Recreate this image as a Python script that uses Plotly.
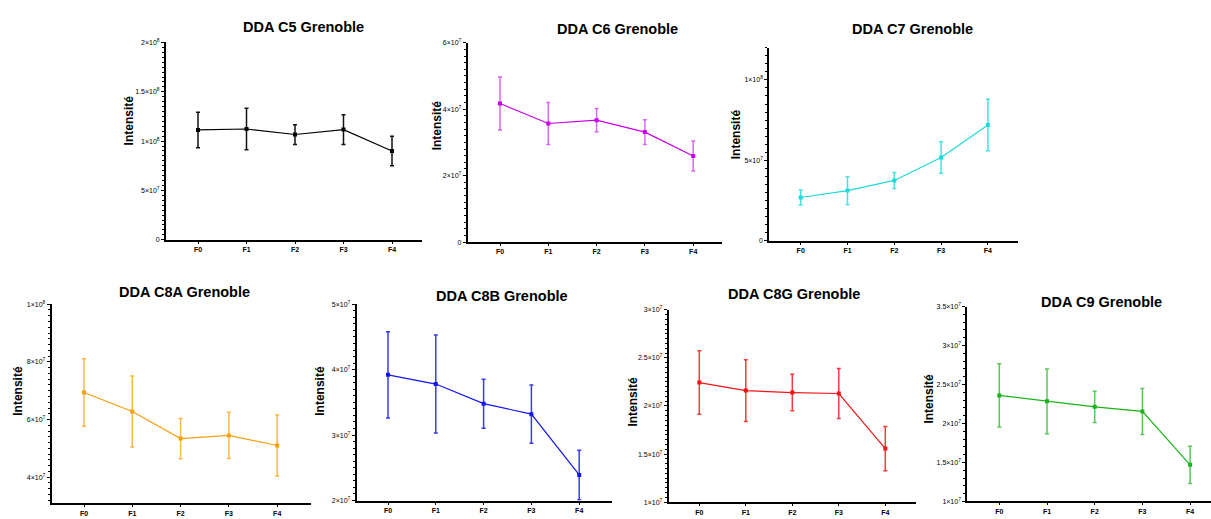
import plotly.graph_objects as go

W, H = 1211, 519

categories = ["F0", "F1", "F2", "F3", "F4"]

titles = ["DDA C5 Grenoble", "DDA C6 Grenoble", "DDA C7 Grenoble",
          "DDA C8A Grenoble", "DDA C8B Grenoble", "DDA C8G Grenoble", "DDA C9 Grenoble"]

c5_mean = [1.113e8, 1.123e8, 1.067e8, 1.117e8, 0.90e8]
c5_err = [0.18e8, 0.21e8, 0.10e8, 0.15e8, 0.15e8]
c6_mean = [4.17e7, 3.57e7, 3.67e7, 3.31e7, 2.59e7]
c6_err = [0.80e7, 0.63e7, 0.35e7, 0.37e7, 0.45e7]
c7_mean = [2.69e7, 3.12e7, 3.75e7, 5.17e7, 7.20e7]
c7_err = [0.46e7, 0.86e7, 0.50e7, 0.98e7, 1.60e7]
c8a_mean = [6.94e7, 6.28e7, 5.34e7, 5.45e7, 5.10e7]
c8a_err = [1.17e7, 1.23e7, 0.70e7, 0.80e7, 1.06e7]
c8b_mean = [3.92e7, 3.78e7, 3.48e7, 3.32e7, 2.39e7]
c8b_err = [0.66e7, 0.75e7, 0.375e7, 0.445e7, 0.38e7]
c8g_mean = [2.244e7, 2.16e7, 2.14e7, 2.13e7, 1.557e7]
c8g_err = [0.33e7, 0.32e7, 0.19e7, 0.26e7, 0.23e7]
c9_mean = [2.36e7, 2.285e7, 2.214e7, 2.155e7, 1.47e7]
c9_err = [0.405e7, 0.415e7, 0.20e7, 0.295e7, 0.24e7]

means = [c5_mean, c6_mean, c7_mean, c8a_mean, c8b_mean, c8g_mean, c9_mean]
errs = [c5_err, c6_err, c7_err, c8a_err, c8b_err, c8g_err, c9_err]

y_ranges = [[0, 2e8], [0, 6e7], [0, 1.2e8], [3.1e7, 1e8], [2e7, 5e7], [1e7, 3e7], [1e7, 3.5e7]]
y_tickvals = [
    [0, 5e7, 1e8, 1.5e8, 2e8],
    [0, 2e7, 4e7, 6e7],
    [0, 5e7, 1e8],
    [4e7, 6e7, 8e7, 1e8],
    [2e7, 3e7, 4e7, 5e7],
    [1e7, 1.5e7, 2e7, 2.5e7, 3e7],
    [1e7, 1.5e7, 2e7, 2.5e7, 3e7, 3.5e7],
]
y_ticktext = [
    ["0", "5×10<sup>7</sup>", "1×10<sup>8</sup>", "1.5×10<sup>8</sup>", "2×10<sup>8</sup>"],
    ["0", "2×10<sup>7</sup>", "4×10<sup>7</sup>", "6×10<sup>7</sup>"],
    ["0", "5×10<sup>7</sup>", "1×10<sup>8</sup>"],
    ["4×10<sup>7</sup>", "6×10<sup>7</sup>", "8×10<sup>7</sup>", "1×10<sup>8</sup>"],
    ["2×10<sup>7</sup>", "3×10<sup>7</sup>", "4×10<sup>7</sup>", "5×10<sup>7</sup>"],
    ["1×10<sup>7</sup>", "1.5×10<sup>7</sup>", "2×10<sup>7</sup>", "2.5×10<sup>7</sup>", "3×10<sup>7</sup>"],
    ["1×10<sup>7</sup>", "1.5×10<sup>7</sup>", "2×10<sup>7</sup>", "2.5×10<sup>7</sup>", "3×10<sup>7</sup>", "3.5×10<sup>7</sup>"],
]

# styles
line_colors = ["#000000", "#C800E8", "#20D8D8", "#F5A010", "#1515F0", "#F01515", "#18B418"]
err_colors = ["#111111", "#D86AF0", "#45E2E2", "#F7B84A", "#3A3AF5", "#F23C3C", "#55CA55"]
minor_dticks = [5e6, 2e6, 5e6, 2e6, 1e6, 5e5, 1e6]

# geometry in pixels: x axis start, F0 position, category spacing, x axis end, y top, y bottom
geom = [
    (166.0, 198.0, 48.5, 422.0, 39.0, 239.0),
    (467.7, 500.0, 48.3, 722.0, 39.3, 241.3),
    (769.3, 800.7, 46.8, 1018.0, 44.3, 240.0),
    (51.7, 84.0, 48.3, 311.0, 304.3, 506.0),
    (356.7, 388.0, 47.8, 612.0, 304.3, 503.3),
    (668.7, 699.3, 46.5, 916.0, 310.0, 505.0),
    (967.3, 999.3, 47.7, 1211.0, 306.7, 504.3),
]
title_pos = [(303, 23), (617, 25), (912, 25), (184, 292), (502, 296), (794, 294), (1101, 302)]
ytitle_pos = [(129, 118), (437, 123), (736, 132), (18, 392), (320, 392), (633, 403), (929, 400)]

fig = go.Figure()
annotations = []
FONT = "Liberation Sans, Arial, sans-serif"

for i in range(7):
    x0, f0, sp, x1, yt, yb = geom[i]
    xa = "x" if i == 0 else f"x{i+1}"
    ya = "y" if i == 0 else f"y{i+1}"
    fig.add_trace(go.Scatter(
        x=categories, y=means[i], mode="lines+markers",
        line=dict(color=line_colors[i], width=1.2),
        marker=dict(symbol="square", size=4, color=line_colors[i]),
        error_y=dict(type="data", array=errs[i], visible=True,
                     color=err_colors[i], thickness=1.5, width=2),
        xaxis=xa, yaxis=ya, showlegend=False, hoverinfo="skip",
    ))
    left = -(f0 - x0) / sp
    right = left + (x1 - x0) / sp
    xkey = "xaxis" if i == 0 else f"xaxis{i+1}"
    ykey = "yaxis" if i == 0 else f"yaxis{i+1}"
    fig.update_layout(**{
        xkey: dict(
            domain=[x0 / W, x1 / W], anchor=ya, type="category",
            categoryorder="array", categoryarray=categories,
            range=[left, right], showline=True, linecolor="black", linewidth=2,
            ticks="outside", ticklen=2, tickwidth=1.2, tickcolor="black",
            tickfont=dict(family=FONT, size=7, color="black", weight="bold"),
            showgrid=False, zeroline=False, fixedrange=True,
        ),
        ykey: dict(
            domain=[1 - yb / H, 1 - yt / H], anchor=xa,
            range=y_ranges[i], tickmode="array",
            tickvals=y_tickvals[i], ticktext=y_ticktext[i],
            showline=True, linecolor="black", linewidth=2,
            ticks="outside", ticklen=3, tickwidth=1.2, tickcolor="black",
            tickfont=dict(family=FONT, size=7, color="black"),
            minor=dict(dtick=minor_dticks[i], ticks="outside", ticklen=2,
                       tickwidth=1, tickcolor="black", showgrid=False),
            showgrid=False, zeroline=False, fixedrange=True,
        ),
    })
    tx, ty = title_pos[i]
    annotations.append(dict(
        text=titles[i], x=tx / W, y=1 - ty / H, xref="paper", yref="paper",
        xanchor="center", yanchor="middle", showarrow=False,
        font=dict(family=FONT, size=14.5, color="black", weight="bold"),
    ))
    ax_, ay_ = ytitle_pos[i]
    annotations.append(dict(
        text="Intensité", x=ax_ / W, y=1 - ay_ / H, xref="paper", yref="paper",
        xanchor="center", yanchor="middle", showarrow=False, textangle=-90,
        font=dict(family=FONT, size=12, color="black", weight="bold"),
    ))

fig.update_layout(
    width=W, height=H, margin=dict(l=0, r=0, t=0, b=0),
    paper_bgcolor="white", plot_bgcolor="white",
    annotations=annotations,
)

fig.write_html(
    "out.html",
    config={"displayModeBar": False},
    post_script="document.body.style.margin='0';document.body.style.overflow='hidden';",
)
